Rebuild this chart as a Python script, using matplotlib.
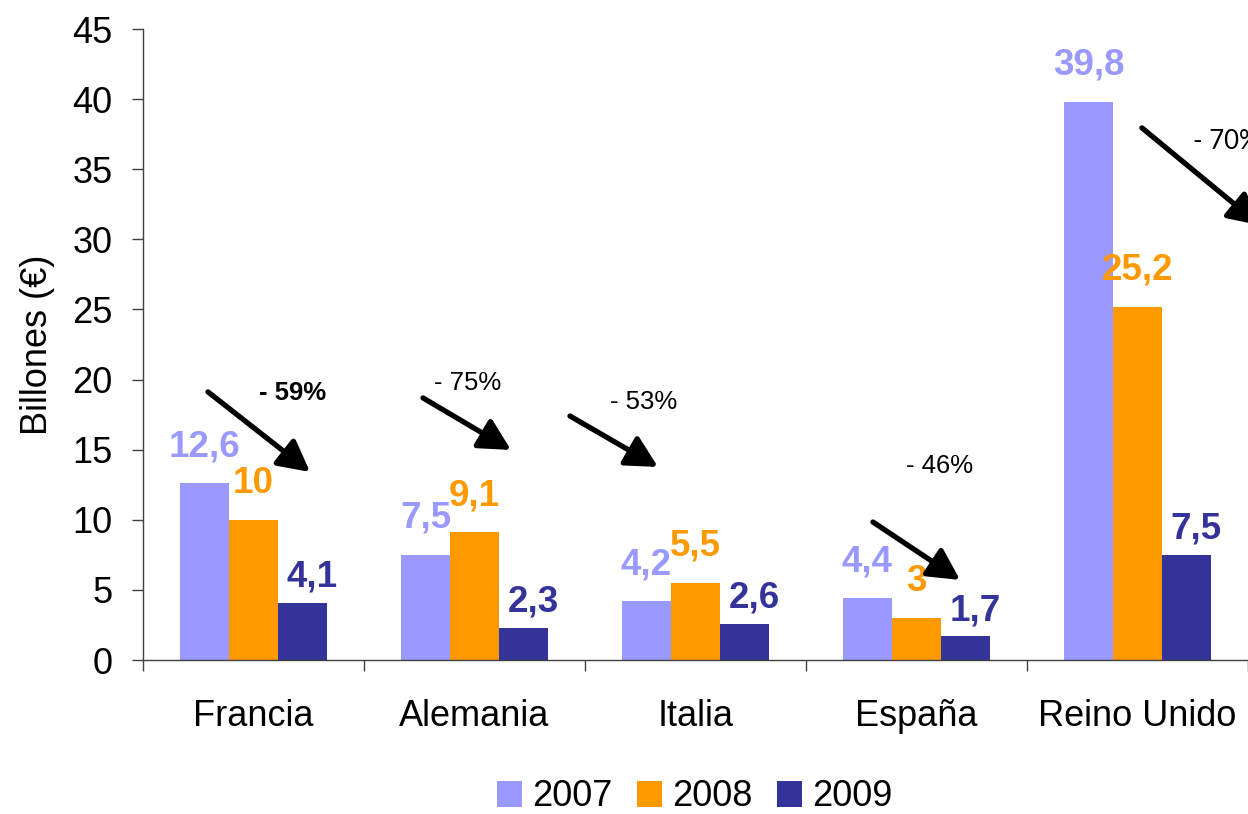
import numpy as np
import matplotlib.pyplot as plt

plt.rcParams['font.family'] = ['Liberation Sans', 'DejaVu Sans']

# Data
paises = ['Francia', 'Alemania', 'Italia', 'España', 'Reino Unido']
anios = ['2007', '2008', '2009']
v2007 = [12.6, 7.5, 4.2, 4.4, 39.8]
v2008 = [10.0, 9.1, 5.5, 3.0, 25.2]
v2009 = [4.1, 2.3, 2.6, 1.7, 7.5]
caidas = ['- 59%', '- 75%', '- 53%', '- 46%', '- 70%']

colores = ['#9999FF', '#FF9900', '#333399']
series = [v2007, v2008, v2009]

fig = plt.figure(figsize=(12.48, 8.14), dpi=100)
ax = fig.add_axes([143/1248, 1 - 660/814, 1 - 143/1248, (660 - 29)/814])

x = np.arange(len(paises))
w = 0.222
for i, (vals, col) in enumerate(zip(series, colores)):
    pos = x + (i - 1) * w
    ax.bar(pos, vals, width=w, color=col, label=anios[i], zorder=2)
    # value labels, 2009 sit a little lower and to the right
    dy = 19.5 if i < 2 else 11.5
    dx = 0 if i < 2 else 7
    for px_, v in zip(pos, vals):
        txt = ('%g' % v).replace('.', ',')
        ax.annotate(txt, (px_, v), xytext=(dx, dy), textcoords='offset points',
                    ha='center', va='baseline', fontsize=26.5, fontweight='bold',
                    color=col, annotation_clip=False)

# arrows (start, tip) and percentage text positions
flechas = [((-0.206, 19.12), (0.256, 13.41)),
           ((0.767, 18.69), (1.165, 14.98)),
           ((1.432, 17.40), (1.830, 13.77)),
           ((2.803, 9.84), (3.197, 5.71)),
           ((4.020, 37.95), (4.555, 31.0))]
textos = [(0.179, 19.04), (0.971, 19.76), (1.765, 18.4), (3.106, 13.84), (4.251, 37.0)]

for (a, b) in flechas:
    ax.annotate('', xy=b, xytext=a, annotation_clip=False,
                arrowprops=dict(arrowstyle='-|>,head_length=0.95,head_width=0.5',
                                mutation_scale=20, lw=3.8, color='black',
                                shrinkA=0, shrinkB=0))

for k, (t, (tx, ty)) in enumerate(zip(caidas, textos)):
    ha = 'left' if k == 4 else 'center'
    fw = 'bold' if k == 0 else 'normal'
    fam = ['Lato', 'DejaVu Sans'] if k == 4 else ['Liberation Sans', 'DejaVu Sans']
    ax.text(tx, ty, t, ha=ha, va='center', fontsize=18.5, fontweight=fw,
            family=fam, clip_on=False)

ax.set_xlim(-0.5, 4.5)
ax.set_ylim(0, 45)
ax.set_yticks(np.arange(0, 46, 5))
ax.tick_params(axis='y', labelsize=26, length=8, width=1, pad=14, color='#404040')

ax.set_xticks(np.arange(-0.5, 5, 1))
ax.set_xticklabels([])
ax.set_xticks(x, minor=True)
ax.set_xticklabels(paises, minor=True)
ax.tick_params(axis='x', which='major', length=8, width=1, color='#404040')
ax.tick_params(axis='x', which='minor', length=0, labelsize=26, pad=28)

for s in ['top', 'right']:
    ax.spines[s].set_visible(False)
for s in ['left', 'bottom']:
    ax.spines[s].set_color('#404040')
    ax.spines[s].set_linewidth(1)

ax.set_ylabel('Billones (€)', fontsize=26, labelpad=12)

fig.legend(loc='center', bbox_to_anchor=(695/1248, 1 - 797/814), ncol=3,
           frameon=False, fontsize=26, handlelength=0.7, handleheight=0.7,
           handletextpad=0.28, columnspacing=0.67, borderpad=0)

fig.savefig('out.png', dpi=100)
